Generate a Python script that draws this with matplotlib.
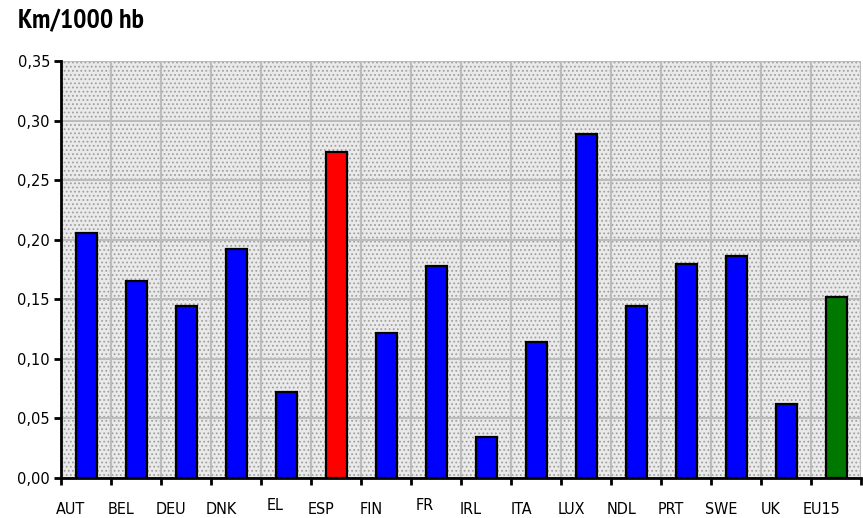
import matplotlib
matplotlib.use("Agg")
import matplotlib.pyplot as plt
from matplotlib.patches import Rectangle
from matplotlib.ticker import FuncFormatter

# donnees
pays = ['AUT', 'BEL', 'DEU', 'DNK', 'EL', 'ESP', 'FIN', 'FR',
        'IRL', 'ITA', 'LUX', 'NDL', 'PRT', 'SWE', 'UK', 'EU15']
km_par_1000hb = [0.206, 0.165, 0.144, 0.192, 0.072, 0.274, 0.122, 0.178,
                 0.034, 0.114, 0.289, 0.144, 0.180, 0.186, 0.062, 0.152]
couleurs = ['#0000ff'] * 16
couleurs[pays.index('ESP')] = '#ff0000'
couleurs[pays.index('EU15')] = '#007800'

plt.rcParams['hatch.linewidth'] = 0.8
plt.rcParams['hatch.color'] = '#a0a0a0'

fig = plt.figure(figsize=(8.63, 5.18), dpi=100)
ax = fig.add_axes([61 / 863, 1 - 478 / 518, 800 / 863, 417 / 518])

# fond pointille
ax.set_facecolor('#eaeaea')
ax.add_patch(Rectangle((0, 0), 1, 1, transform=ax.transAxes, facecolor='#eaeaea',
                       edgecolor='#a0a0a0', hatch='....', linewidth=0, zorder=0))

x = [i + 0.5 for i in range(len(pays))]
ax.bar(x, km_par_1000hb, width=0.42, color=couleurs, edgecolor='black',
       linewidth=1.6, zorder=3)

ax.set_xlim(0, 16)
ax.set_ylim(0, 0.35)
ax.set_yticks([0.05 * k for k in range(8)])
ax.yaxis.set_major_formatter(FuncFormatter(lambda v, p: f'{v:.2f}'.replace('.', ',')))
ax.set_xticks(range(17))
ax.set_xticklabels([])

ax.grid(True, color='#bcbcbc', linewidth=1.5, zorder=1)
ax.set_axisbelow(True)

for s in ['top', 'right']:
    ax.spines[s].set_visible(False)
for s in ['left', 'bottom']:
    ax.spines[s].set_linewidth(2)
    ax.spines[s].set_zorder(4)

ax.tick_params(axis='both', direction='out', length=5, width=2, colors='black')
ax.tick_params(axis='y', labelsize=10.5, pad=3)

# etiquettes des pays, decalees vers la gauche comme dans l'original
for i, p in enumerate(pays):
    dx, dy = 0.2, -32
    if p in ('EL', 'FR'):
        dx, dy = 0.28, -28
    ax.annotate(p, xy=(i + dx, 0), xycoords='data', xytext=(0, dy),
                textcoords='offset pixels', ha='center', va='center',
                fontsize=11.5, family='DejaVu Sans', fontstretch='condensed')

fig.text(18 / 863, 1 - 21 / 518, 'Km/1000 hb', fontsize=20, fontweight='bold',
         ha='left', va='center', family=['PT Sans Narrow', 'DejaVu Sans'])

fig.savefig('out.png', dpi=100)
